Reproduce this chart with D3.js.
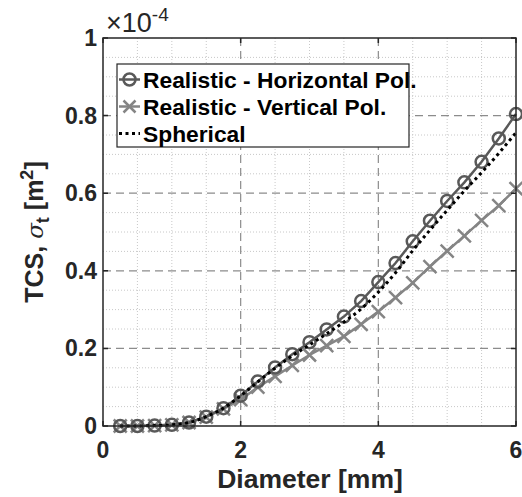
<!DOCTYPE html>
<html>
<head>
<meta charset="utf-8">
<script src="https://cdn.jsdelivr.net/npm/d3@7"></script>
<style>
  body { margin: 0; background: #fff; }
  svg { display: block; font-family: "Liberation Sans", Arial, sans-serif; }
</style>
</head>
<body>
<svg id="chart" width="522" height="497"></svg>
<script>
// diameter in mm, TCS in units of 1e-4 m^2
var diameter = [0.25, 0.5, 0.75, 1.0, 1.25, 1.5, 1.75, 2.0, 2.25, 2.5, 2.75, 3.0,
  3.25, 3.5, 3.75, 4.0, 4.25, 4.5, 4.75, 5.0, 5.25, 5.5, 5.75, 6.0]
var horizontalPol = [0.000, 0.000, 0.001, 0.003, 0.009, 0.024, 0.046, 0.078, 0.115, 0.151, 0.185, 0.216,
  0.249, 0.282, 0.322, 0.371, 0.420, 0.476, 0.529, 0.580, 0.628, 0.681, 0.741, 0.804]
var verticalPol = [0.000, 0.000, 0.001, 0.003, 0.009, 0.023, 0.044, 0.068, 0.100, 0.128, 0.156, 0.183,
  0.207, 0.231, 0.262, 0.295, 0.331, 0.369, 0.411, 0.451, 0.490, 0.530, 0.568, 0.612]
var spherical = [0.000, 0.000, 0.001, 0.003, 0.009, 0.024, 0.046, 0.078, 0.114, 0.149, 0.181, 0.209,
  0.238, 0.268, 0.302, 0.345, 0.395, 0.452, 0.505, 0.556, 0.606, 0.653, 0.703, 0.756]
var xTicks = [0, 2, 4, 6]
var yTicks = [0, 0.2, 0.4, 0.6, 0.8, 1]
var yTickLabels = ['0', '0.2', '0.4', '0.6', '0.8', '1']
var legendLabels = ['Realistic - Horizontal Pol.', 'Realistic - Vertical Pol.', 'Spherical']

var colorH = '#595959'
var colorV = '#858585'
var colorAxis = '#262626'

var svg = d3.select('#chart')
var plotL = 103, plotR = 516, plotT = 38, plotB = 426

var x = d3.scaleLinear().domain([0, 6]).range([plotL, plotR])
var y = d3.scaleLinear().domain([0, 1]).range([plotB, plotT])

// grid
var minorX = d3.range(0.5, 6, 0.5).filter(function (d) { return d % 2 !== 0 })
var minorY = d3.range(1, 20).map(function (i) { return i * 0.05 }).filter(function (d, i) { return (i + 1) % 4 !== 0 })
var grid = svg.append('g')
grid.selectAll('.minx').data(minorX).enter().append('line')
  .attr('x1', d => x(d)).attr('x2', d => x(d)).attr('y1', plotT).attr('y2', plotB)
  .attr('stroke', '#c8c8c8').attr('stroke-width', 1).attr('stroke-dasharray', '1,2')
grid.selectAll('.miny').data(minorY).enter().append('line')
  .attr('y1', d => y(d)).attr('y2', d => y(d)).attr('x1', plotL).attr('x2', plotR)
  .attr('stroke', '#c8c8c8').attr('stroke-width', 1).attr('stroke-dasharray', '1,2')
grid.selectAll('.majx').data([2, 4]).enter().append('line')
  .attr('x1', d => x(d)).attr('x2', d => x(d)).attr('y1', plotT).attr('y2', plotB)
  .attr('stroke', '#8c8c8c').attr('stroke-width', 1.2).attr('stroke-dasharray', '8,5')
grid.selectAll('.majy').data([0.2, 0.4, 0.6, 0.8]).enter().append('line')
  .attr('y1', d => y(d)).attr('y2', d => y(d)).attr('x1', plotL).attr('x2', plotR)
  .attr('stroke', '#8c8c8c').attr('stroke-width', 1.2).attr('stroke-dasharray', '8,5')

// series
var line = d3.line().x(d => x(d[0])).y(d => y(d[1]))
var hData = d3.zip(diameter, horizontalPol)
var vData = d3.zip(diameter, verticalPol)
var sData = d3.zip(diameter, spherical)

var plot = svg.append('g')

plot.append('path').datum(vData).attr('d', line)
  .attr('fill', 'none').attr('stroke', colorV).attr('stroke-width', 2.5)
plot.selectAll('.xm').data(vData).enter().append('path')
  .attr('d', d => {
    var cx = x(d[0]), cy = y(d[1]), s = 6.5
    return 'M' + (cx - s) + ',' + (cy - s) + 'L' + (cx + s) + ',' + (cy + s) +
      'M' + (cx - s) + ',' + (cy + s) + 'L' + (cx + s) + ',' + (cy - s)
  })
  .attr('stroke', colorV).attr('stroke-width', 2.5)

plot.append('path').datum(hData).attr('d', line)
  .attr('fill', 'none').attr('stroke', colorH).attr('stroke-width', 2.5)
plot.selectAll('.cm').data(hData).enter().append('circle')
  .attr('cx', d => x(d[0])).attr('cy', d => y(d[1])).attr('r', 6)
  .attr('fill', 'none').attr('stroke', colorH).attr('stroke-width', 2.5)

plot.append('path').datum(sData).attr('d', d3.line().curve(d3.curveMonotoneX).x(d => x(d[0])).y(d => y(d[1])))
  .attr('fill', 'none').attr('stroke', '#000').attr('stroke-width', 3).attr('stroke-dasharray', '3,3.5')

// box and ticks
var axes = svg.append('g')
axes.append('rect').attr('x', plotL).attr('y', plotT).attr('width', plotR - plotL).attr('height', plotB - plotT)
  .attr('fill', 'none').attr('stroke', colorAxis).attr('stroke-width', 1.5)
axes.selectAll('.tx').data(xTicks).enter().append('path')
  .attr('d', d => 'M' + x(d) + ',' + plotB + 'v-5M' + x(d) + ',' + plotT + 'v5')
  .attr('stroke', colorAxis).attr('stroke-width', 1.5)
axes.selectAll('.ty').data(yTicks).enter().append('path')
  .attr('d', d => 'M' + plotL + ',' + y(d) + 'h5M' + plotR + ',' + y(d) + 'h-5')
  .attr('stroke', colorAxis).attr('stroke-width', 1.5)

axes.selectAll('.xl').data(xTicks).enter().append('text')
  .attr('x', d => x(d)).attr('y', 458).attr('text-anchor', 'middle')
  .attr('font-size', 23).attr('font-weight', 'bold').attr('fill', colorAxis)
  .text(d => d)
axes.selectAll('.yl').data(yTicks).enter().append('text')
  .attr('x', 97).attr('y', d => y(d) + 8).attr('text-anchor', 'end')
  .attr('font-size', 23).attr('font-weight', 'bold').attr('fill', colorAxis)
  .text((d, i) => yTickLabels[i])

// exponent
var ex = svg.append('text').attr('x', 106).attr('y', 32).attr('font-size', 27).attr('fill', colorAxis)
ex.append('tspan').text('\u00d710')
ex.append('tspan').attr('dy', -11).attr('font-size', 19).text('-4')

// axis labels
svg.append('text').attr('x', x(3) + 0.5).attr('y', 488).attr('text-anchor', 'middle')
  .attr('font-size', 26.5).attr('font-weight', 'bold').attr('fill', colorAxis)
  .text('Diameter [mm]')
var yl = svg.append('text').attr('transform', 'translate(43,' + (plotT + plotB) / 2 + ') rotate(-90)')
  .attr('text-anchor', 'middle').attr('font-size', 25).attr('font-weight', 'bold').attr('fill', colorAxis)
yl.append('tspan').text('TCS, ')
yl.append('tspan').attr('font-family', 'DejaVu Serif').attr('font-style', 'italic').attr('font-weight', 'normal').attr('font-size', 23).text('\u03c3')
yl.append('tspan').attr('dy', 6).attr('font-size', 18).text('t')
yl.append('tspan').attr('dy', -6).text(' [m')
yl.append('tspan').attr('dy', -10).attr('font-size', 18).text('2')
yl.append('tspan').attr('dy', 10).text(']')

// legend
var lg = svg.append('g')
lg.append('rect').attr('x', 117).attr('y', 64).attr('width', 292).attr('height', 83)
  .attr('fill', '#fff').attr('stroke', colorAxis).attr('stroke-width', 1.2)
var rows = lg.selectAll('.row').data(legendLabels).enter().append('g')
  .attr('transform', (d, i) => 'translate(0,' + (79.5 + i * 27) + ')')
rows.append('text').attr('x', 143).attr('y', 8).attr('font-size', 22.8).attr('font-weight', 'bold')
  .attr('fill', '#000').text(d => d)
rows.filter((d, i) => i === 0).append('line').attr('x1', 119).attr('x2', 140)
  .attr('stroke', colorH).attr('stroke-width', 2.5)
rows.filter((d, i) => i === 0).append('circle').attr('cx', 129.5).attr('r', 6)
  .attr('fill', 'none').attr('stroke', colorH).attr('stroke-width', 2.5)
rows.filter((d, i) => i === 1).append('line').attr('x1', 119).attr('x2', 140)
  .attr('stroke', colorV).attr('stroke-width', 2.5)
rows.filter((d, i) => i === 1).append('path').attr('d', 'M123.5,-6L135.5,6M123.5,6L135.5,-6')
  .attr('stroke', colorV).attr('stroke-width', 2.5)
rows.filter((d, i) => i === 2).append('line').attr('x1', 119).attr('x2', 140)
  .attr('stroke', '#000').attr('stroke-width', 3).attr('stroke-dasharray', '3,3.5')
</script>
</body>
</html>
